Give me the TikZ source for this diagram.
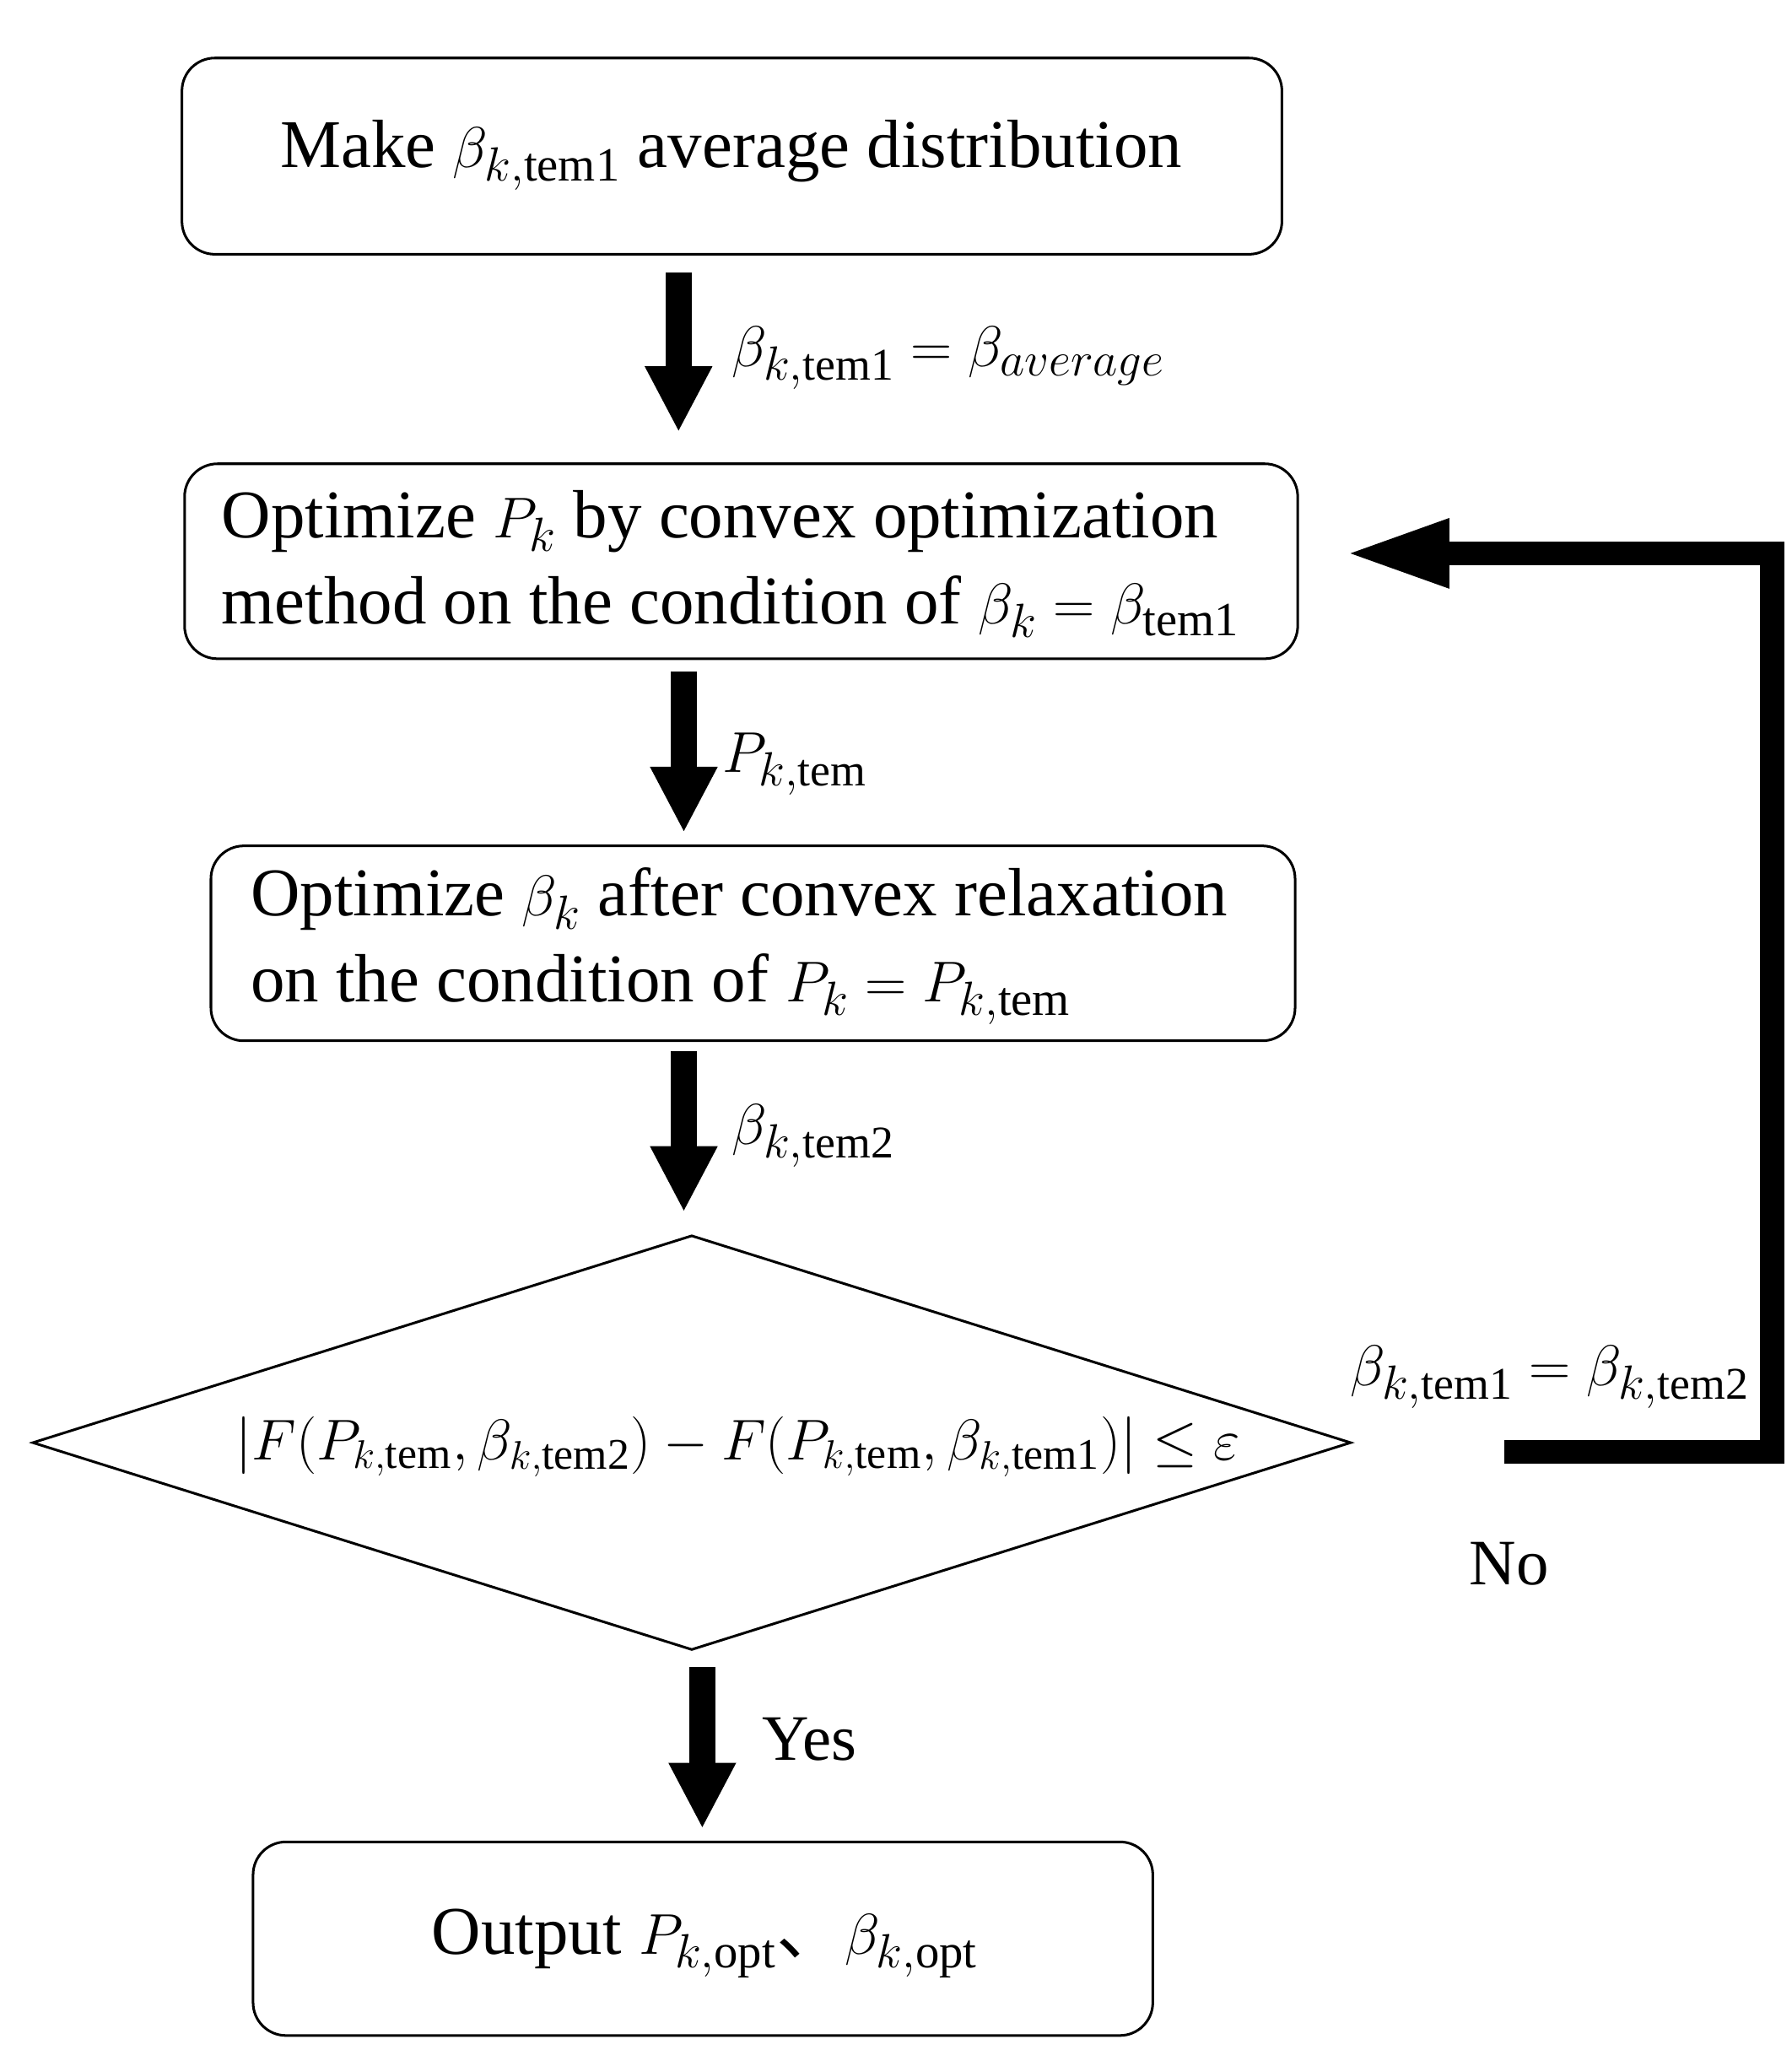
\documentclass[tikz,border=0pt]{standalone}
\usepackage{fontspec}
\setmainfont{Liberation Serif}
\newfontfamily\cjk{Noto Sans CJK SC}
\usetikzlibrary{arrows.meta}
\begin{document}
\begin{tikzpicture}[x=0.02cm,y=-0.02cm,
  box/.style={draw,line width=1.1pt,rounded corners=0.5cm,inner sep=0},
  txt/.style={font=\fontsize{29.5}{37}\selectfont,inner sep=0,align=left},
  big/.style={line width=0.4cm,-{Triangle[length=1.0cm,width=0.95cm]}},
  lab/.style={font=\fontsize{28}{32}\selectfont,inner sep=0,anchor=west}]
\useasboundingbox (0,0) rectangle (1360,1556);
\fill[white] (0,0) rectangle (1360,1556);
\node[box,minimum width=16.7cm,minimum height=2.98cm] (b1) at (555.5,118.5) {};
\node[txt] (t1) at (555,118) {Make $\beta_{k,\mathrm{tem1}}$ average distribution};
\node[box,minimum width=16.9cm,minimum height=2.96cm] (b2) at (562.5,426) {};
\node[txt,anchor=west] (t2) at (168,428) {Optimize $P_k$ by convex optimization\\method on the condition of $\beta_k=\beta_{\mathrm{tem1}}$};
\node[box,minimum width=16.46cm,minimum height=2.96cm] (b3) at (571.5,716) {};
\node[txt,anchor=west] (t3) at (190,718) {Optimize $\beta_k$ after convex relaxation\\on the condition of $P_k=P_{k,\mathrm{tem}}$};
\node[box,minimum width=13.66cm,minimum height=2.94cm] (b4) at (533.5,1471.5) {};
\node[txt] (t4) at (535,1475) {Output $P_{k,\mathrm{opt}}${\cjk 、}$\beta_{k,\mathrm{opt}}$};
\coordinate (dT) at (525,938); \coordinate (dL) at (25,1095);
\coordinate (dR) at (1025,1095); \coordinate (dB) at (525,1252);
\draw[line width=1.1pt] (dT)--(dR)--(dB)--(dL)--cycle;
\node[txt,font=\fontsize{27}{32}\selectfont] (dt) at (560,1098) {$\Bigl|F(P_{k,\mathrm{tem}},\beta_{k,\mathrm{tem2}})-F(P_{k,\mathrm{tem}},\beta_{k,\mathrm{tem1}})\Bigr|\le\varepsilon$};
\coordinate (a1s) at (515,207); \coordinate (a1e) at (515,328);
\coordinate (a2s) at (519,510); \coordinate (a2e) at (519,632);
\coordinate (a3s) at (519,798); \coordinate (a3e) at (519,920);
\coordinate (a4s) at (533,1265); \coordinate (a4e) at (533,1388);
\draw[big] (a1s)--(a1e);
\draw[big] (a2s)--(a2e);
\draw[big] (a3s)--(a3e);
\draw[big] (a4s)--(a4e);
\coordinate (f1) at (1142,1102); \coordinate (f2) at (1345,1102);
\coordinate (f3) at (1345,420); \coordinate (f4) at (1020,420);
\draw[line width=0.36cm,-{Triangle[length=1.6cm,width=0.95cm]}] (f1)--(f2)--(f3)--(f4);
\node[lab] (l1) at (555,272) {$\beta_{k,\mathrm{tem1}}=\beta_{average}$};
\node[lab] (l2) at (548,580) {$P_{k,\mathrm{tem}}$};
\node[lab] (l3) at (555,862) {$\beta_{k,\mathrm{tem2}}$};
\node[lab,anchor=east] (l4) at (1328,1045) {$\beta_{k,\mathrm{tem1}}=\beta_{k,\mathrm{tem2}}$};
\node[lab] (l5) at (1115,1187) {No};
\node[lab] (l6) at (578,1320) {Yes};
\end{tikzpicture}
\end{document}
